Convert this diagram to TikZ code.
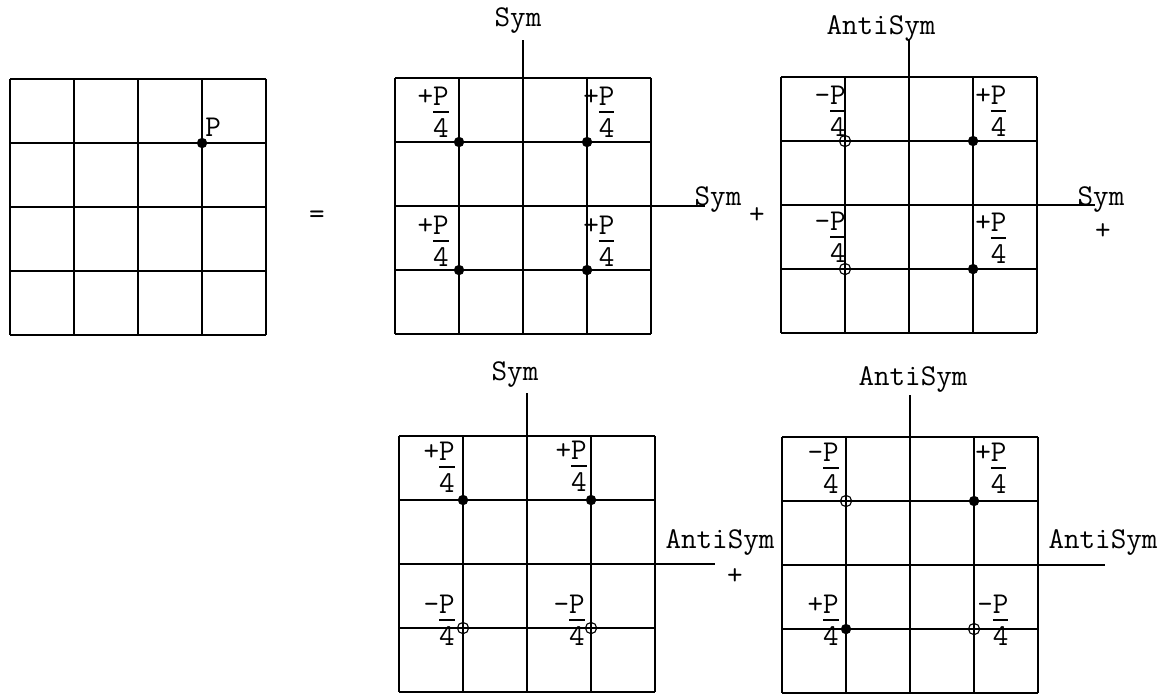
\documentclass[tikz,border=0pt]{standalone}
\usepackage{fontspec}
\usetikzlibrary{calc}
\setlength{\arrayrulewidth}{1.1pt}
\newcommand{\quart}[1]{\begin{tabular}[b]{@{}r@{}c@{}}#1&P\\[-3pt]\cline{2-2}\noalign{\vskip2pt}&4\end{tabular}}

\begin{document}
\begin{tikzpicture}[
    x=0.025cm, y=-0.025cm,
    gridline/.style={line width=1.5pt},
    axisline/.style={line width=1.1pt},
    txt/.style={font=\fontsize{21.5}{23.5}\selectfont\ttfamily, inner sep=0pt},
    axlbl/.style={txt, anchor=base},
    fdot/.style={circle, fill, inner sep=0pt, minimum size=0.26cm},
    odot/.style={circle, draw, line width=0.8pt, inner sep=0pt, minimum size=0.28cm},
]
\path[fill=white] (0,0) rectangle (1168,694);

% Original panel with the single load P
\begin{scope}[shift={(10,79)}, x=1.6cm, y=-1.6cm]
  \foreach \i in {0,...,4} {
    \draw[gridline] (\i,0) -- (\i,4);
    \draw[gridline] (0,\i) -- (4,\i);
  }
  \node[fdot] (p0) at (3,1) {};
\end{scope}
\node[txt, anchor=base west] (plbl) at ($(p0)+(3,-7)$) {P};
\node[txt] (eq) at (317,217) {=};

% Sym - Sym
\begin{scope}[shift={(395,78)}, x=1.6cm, y=-1.6cm]
  \foreach \i in {0,...,4} {
    \draw[gridline] (\i,0) -- (\i,4);
    \draw[gridline] (0,\i) -- (4,\i);
  }
  \draw[axisline] (2,0) -- (2,-0.6);
  \draw[axisline] (4,2) -- (4.84,2);
  \node[fdot] (ss1) at (1,1) {};
  \node[fdot] (ss2) at (3,1) {};
  \node[fdot] (ss3) at (1,3) {};
  \node[fdot] (ss4) at (3,3) {};
\end{scope}
\node[axlbl] (ssv) at (518,27) {Sym};
\node[axlbl] (ssh) at (718,205) {Sym};
\node[txt] (plus1) at (757,216) {+};
\node[txt, anchor=base east] (ssq1) at ($(ss1)+(-10,-5)$) {\quart{+}};
\node[txt, anchor=base west] (ssq2) at ($(ss2)+(-4,-5)$) {\quart{+}};
\node[txt, anchor=base east] (ssq3) at ($(ss3)+(-10,-4)$) {\quart{+}};
\node[txt, anchor=base west] (ssq4) at ($(ss4)+(-4,-4)$) {\quart{+}};

% AntiSym - Sym
\begin{scope}[shift={(781,77)}, x=1.6cm, y=-1.6cm]
  \foreach \i in {0,...,4} {
    \draw[gridline] (\i,0) -- (\i,4);
    \draw[gridline] (0,\i) -- (4,\i);
  }
  \draw[axisline] (2,0) -- (2,-0.58);
  \draw[axisline] (4,2) -- (4.9,2);
  \node[odot] (as1) at (1,1) {};
  \node[fdot] (as2) at (3,1) {};
  \node[odot] (as3) at (1,3) {};
  \node[fdot] (as4) at (3,3) {};
\end{scope}
\node[axlbl] (asv) at (881,35) {AntiSym};
\node[axlbl] (ash) at (1101,205) {Sym};
\node[txt] (plus2) at (1103,232) {+};
\node[txt, anchor=base east] (asq1) at ($(as1)+(1,-5)$) {\quart{-}};
\node[txt, anchor=base west] (asq2) at ($(as2)+(2,-5)$) {\quart{+}};
\node[txt, anchor=base east] (asq3) at ($(as3)+(1,-7)$) {\quart{-}};
\node[txt, anchor=base west] (asq4) at ($(as4)+(2,-6)$) {\quart{+}};

% Sym - AntiSym
\begin{scope}[shift={(399,436)}, x=1.6cm, y=-1.6cm]
  \foreach \i in {0,...,4} {
    \draw[gridline] (\i,0) -- (\i,4);
    \draw[gridline] (0,\i) -- (4,\i);
  }
  \draw[axisline] (2,0) -- (2,-0.67);
  \draw[axisline] (4,2) -- (4.94,2);
  \node[fdot] (sa1) at (1,1) {};
  \node[fdot] (sa2) at (3,1) {};
  \node[odot] (sa3) at (1,3) {};
  \node[odot] (sa4) at (3,3) {};
\end{scope}
\node[axlbl] (sav) at (515,380) {Sym};
\node[axlbl] (sah) at (720,548) {AntiSym};
\node[txt] (plus3) at (735,577) {+};
\node[txt, anchor=base east] (saq1) at ($(sa1)+(-8,-8)$) {\quart{+}};
\node[txt, anchor=base east] (saq2) at ($(sa2)+(-4,-9)$) {\quart{+}};
\node[txt, anchor=base east] (saq3) at ($(sa3)+(-8,17)$) {\quart{-}};
\node[txt, anchor=base east] (saq4) at ($(sa4)+(-6,17)$) {\quart{-}};

% AntiSym - AntiSym
\begin{scope}[shift={(782,437)}, x=1.6cm, y=-1.6cm]
  \foreach \i in {0,...,4} {
    \draw[gridline] (\i,0) -- (\i,4);
    \draw[gridline] (0,\i) -- (4,\i);
  }
  \draw[axisline] (2,0) -- (2,-0.66);
  \draw[axisline] (4,2) -- (5.05,2);
  \node[odot] (aa1) at (1,1) {};
  \node[fdot] (aa2) at (3,1) {};
  \node[fdot] (aa3) at (1,3) {};
  \node[odot] (aa4) at (3,3) {};
\end{scope}
\node[axlbl] (aav) at (913,385) {AntiSym};
\node[axlbl] (aah) at (1103,548) {AntiSym};
\node[txt, anchor=base east] (aaq1) at ($(aa1)+(-7,-8)$) {\quart{-}};
\node[txt, anchor=base west] (aaq2) at ($(aa2)+(1,-8)$) {\quart{+}};
\node[txt, anchor=base east] (aaq3) at ($(aa3)+(-7,16)$) {\quart{+}};
\node[txt, anchor=base west] (aaq4) at ($(aa4)+(3,16)$) {\quart{-}};

\end{tikzpicture}
\end{document}
